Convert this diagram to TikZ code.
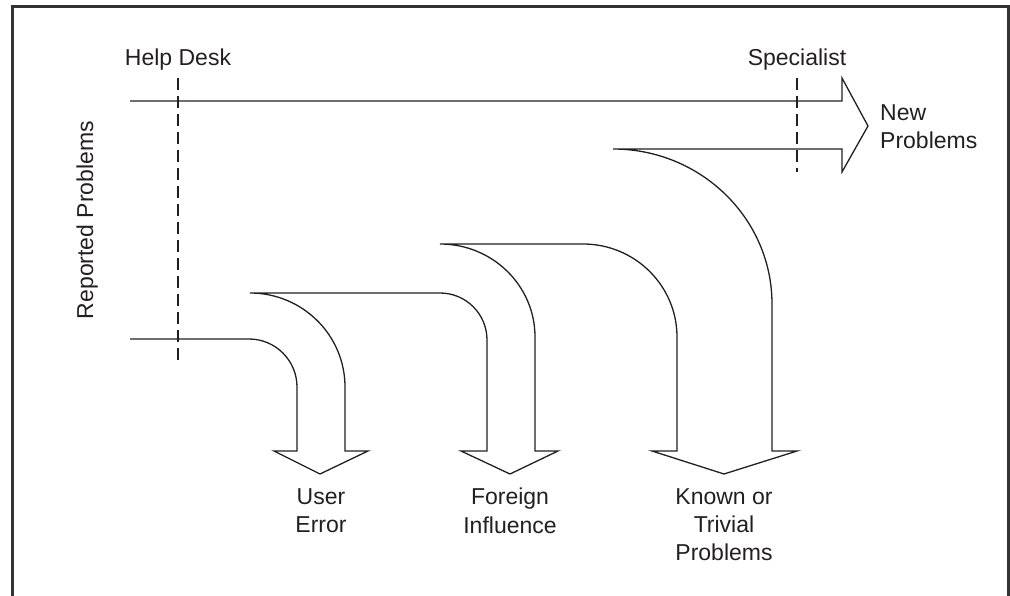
\documentclass[tikz,border=0pt]{standalone}
\usepackage{fontspec}
\setmainfont{Liberation Sans}
\definecolor{ink}{HTML}{231F20}
\definecolor{framec}{HTML}{333333}
\begin{document}
\begin{tikzpicture}[x=1pt,y=-1pt,
  flow/.style={line width=1.3pt, draw=ink, line join=miter},
  guide/.style={line width=1.8pt, draw=ink, dash pattern=on 12pt off 6pt},
  frameline/.style={line width=3pt, draw=framec},
  lbl/.style={font=\fontsize{23}{28.3}\selectfont, text=ink, inner sep=0pt}]
\useasboundingbox (0,0) rectangle (1010,596);
% frame
\draw[frameline] (12,596) -- (12,7) -- (1008,7) -- (1008,596);
% flow outline
\draw[flow] (130,339) -- (249,339)
  .. controls (275.5,339) and (297,360.5) .. (297,387)
  -- (297,451) -- (274,451) -- (320,474) -- (368,451) -- (345,451) -- (345,387)
  .. controls (345,335.1) and (302.5,293) .. (250,293)
  -- (440,293)
  .. controls (466,293) and (487,314) .. (487,340)
  -- (487,451) -- (461,451) -- (510,474) -- (558,451) -- (535,451) -- (535,337)
  .. controls (535,285.6) and (492.5,244) .. (440,244)
  -- (583,244)
  .. controls (634.9,244) and (677,285.6) .. (677,337)
  -- (677,451) -- (652,451) -- (724,474) -- (797,451) -- (772,451) -- (772,304)
  .. controls (772,218.4) and (700.8,149) .. (613,149)
  -- (842,149) -- (842,172) -- (868,126) -- (842,78) -- (842,101) -- (130,101);
% guides
\draw[guide] (178,78) -- (178,360);
\draw[guide] (797,78) -- (797,172);
% labels
\node[lbl, anchor=base] (helpdesk) at (178,66) {Help Desk};
\node[lbl, anchor=base] (specialist) at (797,66) {Specialist};
\node[lbl, anchor=north west, align=left] (newprob) at (880,104) {New\\Problems};
\node[lbl, anchor=base, rotate=90] (reported) at (93,220) {Reported Problems};
\node[lbl, anchor=north, align=center] (usererr) at (321,488) {User\\Error};
\node[lbl, anchor=north, align=center] (foreign) at (510,488) {Foreign\\Influence};
\node[lbl, anchor=north, align=center] (known) at (724,488) {Known or\\Trivial\\Problems};
\end{tikzpicture}
\end{document}
